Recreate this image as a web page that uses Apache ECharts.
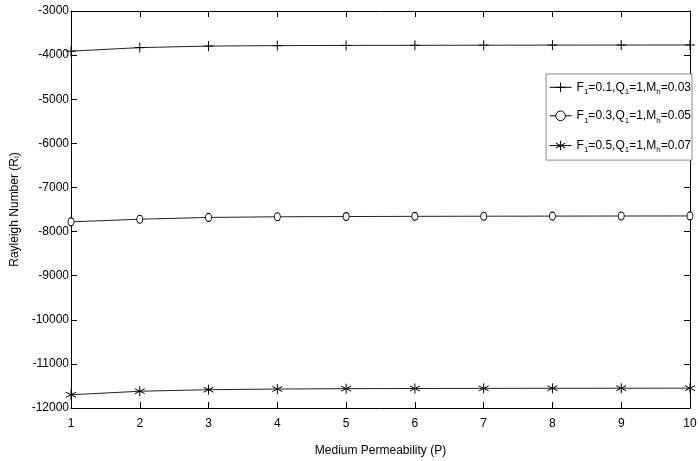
<!DOCTYPE html>
<html>
<head>
<meta charset="utf-8">
<script src="https://cdn.jsdelivr.net/npm/echarts@6/dist/echarts.min.js"></script>
<style>html,body{margin:0;padding:0;background:#fff;}#c{width:698px;height:461px;}</style>
</head>
<body>
<div id="c"></div>
<script>
var permeability = [1, 2, 3, 4, 5, 6, 7, 8, 9, 10];
var series1 = [-3910, -3830, -3795, -3785, -3780, -3778, -3775, -3773, -3772, -3770];
var series2 = [-7780, -7720, -7680, -7665, -7660, -7655, -7652, -7650, -7648, -7646];
var series3 = [-11700, -11620, -11585, -11570, -11562, -11558, -11555, -11553, -11552, -11550];
var seriesNames = ['s1', 's2', 's3'];
var legendLabels = {
  s1: '{t|F}{sub|1}{t|=0.1,Q}{sub|1}{t|=1,M}{sub|h}{t|=0.03}',
  s2: '{t|F}{sub|1}{t|=0.3,Q}{sub|1}{t|=1,M}{sub|h}{t|=0.05}',
  s3: '{t|F}{sub|1}{t|=0.5,Q}{sub|1}{t|=1,M}{sub|h}{t|=0.07}'
};
var FONT = '"Liberation Sans", Arial, sans-serif';
var plusPath = 'path://M5,0L5,10M0,5L10,5';
var starPath = 'path://M5,0L5,10M0.7,2.5L9.3,7.5M0.7,7.5L9.3,2.5';
var circlePath = 'path://M4,0A4,5,0,1,1,4,10A4,5,0,1,1,4,0Z';

function mk(name, data, symbol, size) {
  var circle = symbol === circlePath;
  return {
    name: name, type: 'line', data: permeability.map(function (p, i) { return [p, data[i]]; }),
    symbol: symbol, symbolSize: size, showAllSymbol: true,
    lineStyle: { color: '#222', width: 1 },
    itemStyle: { color: circle ? '#fff' : 'none', borderColor: '#000', borderWidth: 1 },
    emphasis: { disabled: true }, animation: false
  };
}

var chart = echarts.init(document.getElementById('c'));
chart.setOption({
  backgroundColor: '#fff',
  animation: false,
  grid: { left: 71, right: 8, top: 11, bottom: 53, outerBoundsMode: 'none', containLabel: false },
  legend: {
    orient: 'vertical', right: 6, top: 74,
    data: seriesNames,
    backgroundColor: '#fff', borderColor: '#888', borderWidth: 1,
    padding: [6, 1, 6, 3], itemWidth: 22, itemHeight: 12, itemGap: 14,
    lineStyle: { width: 1, color: '#000' },
    itemStyle: { borderWidth: 1, borderColor: '#000' },
    formatter: function (n) { return legendLabels[n]; },
    textStyle: {
      rich: {
        t: { fontFamily: FONT, fontSize: 12, color: '#000' },
        sub: { fontFamily: FONT, fontSize: 8, color: '#000', padding: [9, 0, 0, 0] }
      }
    }
  },
  xAxis: [{
    type: 'value', min: 1, max: 10, interval: 1,
    name: 'Medium Permeability (P)', nameLocation: 'middle', nameGap: 37,
    nameTextStyle: { fontFamily: FONT, fontSize: 12, color: '#000' },
    axisLine: { lineStyle: { color: '#000', width: 1 } },
    axisTick: { inside: true, length: 6, lineStyle: { color: '#000' } },
    axisLabel: { fontFamily: FONT, fontSize: 12, color: '#000', margin: 10 },
    splitLine: { show: false }
  }, {
    type: 'value', min: 1, max: 10, interval: 1, position: 'top',
    axisLine: { lineStyle: { color: '#000', width: 1 } },
    axisTick: { inside: true, length: 6, lineStyle: { color: '#000' } },
    axisLabel: { show: false }, splitLine: { show: false }
  }],
  yAxis: [{
    type: 'value', min: -12000, max: -3000, interval: 1000,
    name: '{t|Rayleigh Number (R}{sub|l}{t|)}', nameLocation: 'middle', nameGap: 50,
    nameTextStyle: {
      rich: {
        t: { fontFamily: FONT, fontSize: 12, color: '#000' },
        sub: { fontFamily: FONT, fontSize: 8, color: '#000', padding: [0, 0, 0, 0], verticalAlign: 'bottom' }
      }
    },
    axisLine: { show: true, lineStyle: { color: '#000', width: 1 } },
    axisTick: { show: true, inside: true, length: 6, lineStyle: { color: '#000' } },
    axisLabel: { fontFamily: FONT, fontSize: 12, color: '#000', margin: 2,
      formatter: function (v) { return String(v); } },
    splitLine: { show: false }
  }, {
    type: 'value', min: -12000, max: -3000, interval: 1000, position: 'right',
    axisLine: { show: true, lineStyle: { color: '#000', width: 1 } },
    axisTick: { show: true, inside: true, length: 6, lineStyle: { color: '#000' } },
    axisLabel: { show: false }, splitLine: { show: false }
  }],
  series: [
    mk('s1', series1, plusPath, 10),
    mk('s2', series2, circlePath, [6, 8]),
    mk('s3', series3, starPath, 10)
  ]
});
</script>
</body>
</html>
